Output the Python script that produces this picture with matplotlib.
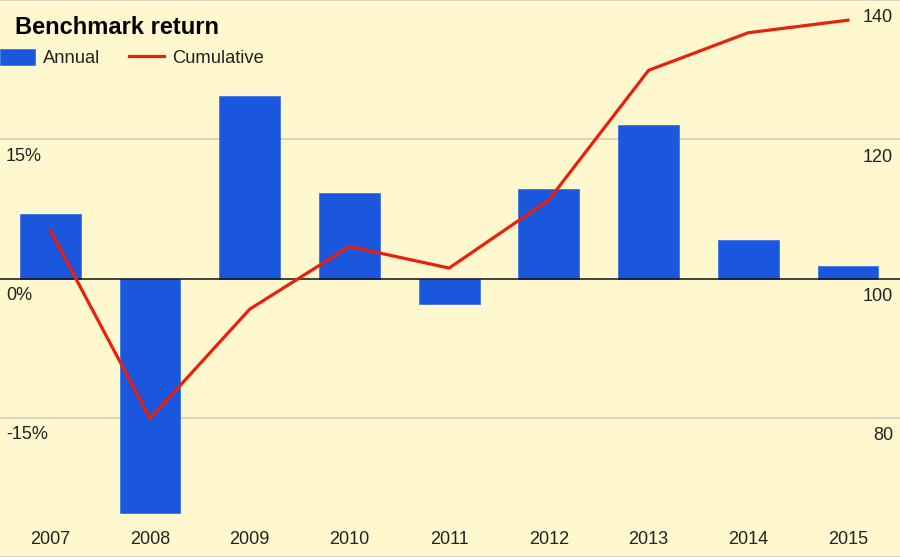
import matplotlib
matplotlib.use('Agg')
import matplotlib.pyplot as plt
from matplotlib.transforms import blended_transform_factory

plt.rcParams['font.family'] = ['Liberation Sans', 'DejaVu Sans']

# data
years = ['2007', '2008', '2009', '2010', '2011', '2012', '2013', '2014', '2015']
annual = [7.0, -25.3, 19.7, 9.2, -2.8, 9.6, 16.5, 4.1, 1.3]
cumulative = [106.9, 79.9, 95.6, 104.6, 101.5, 111.3, 129.9, 135.3, 137.1]
pct_ticks = [-15, 0, 15]
pct_labels = ['-15%', '0%', '15%']
cum_ticks = [80, 100, 120, 140]
cum_labels = ['80', '100', '120', '140']

bg = '#fff8cf'
bar_color = '#1a57dd'
line_color = '#e8200c'
grid_color = '#dcd5bd'
text_color = '#222222'

fig = plt.figure(figsize=(9, 5.57), dpi=100, facecolor=bg)
ax = fig.add_axes([0, 0, 1, 1], facecolor=bg)
ax2 = ax.twinx()

x = range(len(years))
ax.bar(x, annual, width=0.61, color=bar_color, edgecolor='#3f74e6',
       linewidth=0.6, zorder=2, label='Annual')
ax2.plot(x, cumulative, color=line_color, linewidth=2.3, zorder=3,
         label='Cumulative')

ax.set_xlim(-0.505, 8.522)
ax.set_ylim(-30, 30)
ax2.set_ylim(60, 140)

# gridlines
for g in [-30, -15, 15, 30]:
    ax.axhline(g, color=grid_color, linewidth=1.4, zorder=1)
ax.axhline(0, color='#111111', linewidth=1.1, zorder=2.5)

for a in (ax, ax2):
    for s in a.spines.values():
        s.set_visible(False)
    a.set_yticks([])

# x tick labels drawn inside the chart area
ax.set_xticks(list(x))
ax.set_xticklabels(years, fontsize=13, color=text_color)
ax.tick_params(axis='x', length=0, pad=-19)

# y labels inside, just below their gridlines
tl = blended_transform_factory(ax.transAxes, ax.transData)
for v, lab in zip(pct_ticks, pct_labels):
    ax.annotate(lab, xy=(0, v), xycoords=tl, xytext=(6, -17),
                textcoords='offset pixels', ha='left', va='center',
                fontsize=13, color=text_color)
tr = blended_transform_factory(ax2.transAxes, ax2.transData)
for v, lab in zip(cum_ticks, cum_labels):
    ax2.annotate(lab, xy=(1, v), xycoords=tr, xytext=(-7, -18),
                 textcoords='offset pixels', ha='right', va='center',
                 fontsize=13, color=text_color)

fig.text(15 / 900, 1 - 28 / 557, 'Benchmark return', fontsize=17,
         fontweight='bold', color='black', va='center', ha='left')

h1, l1 = ax.get_legend_handles_labels()
h2, l2 = ax2.get_legend_handles_labels()
fig.legend(h1 + h2, l1 + l2, loc='upper left',
           bbox_to_anchor=(0, 1 - 49 / 557), ncol=2, frameon=False,
           fontsize=13.2, handlelength=1.9, handleheight=0.95,
           handletextpad=0.45, columnspacing=1.55, borderpad=0,
           borderaxespad=0, labelcolor=text_color)

fig.savefig('out.png', dpi=100, facecolor=bg)
